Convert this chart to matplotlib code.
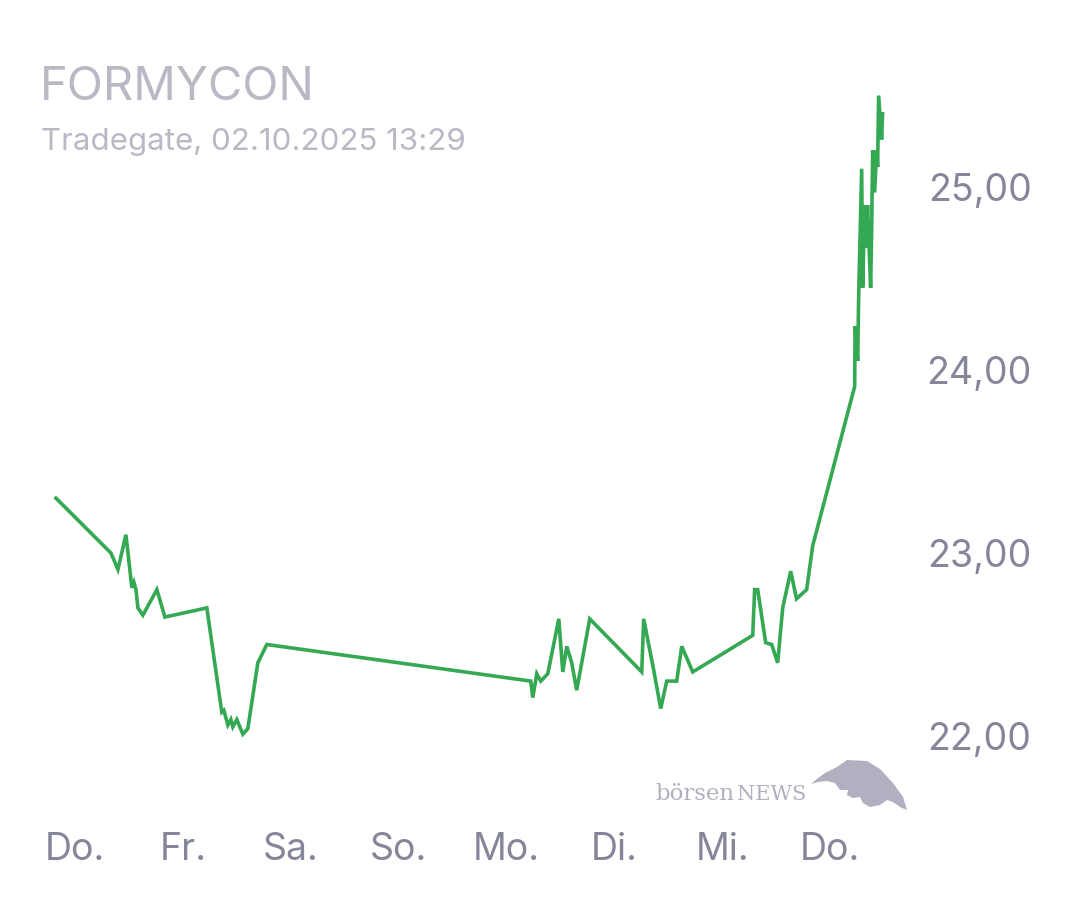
import matplotlib
matplotlib.use("Agg")
import matplotlib.pyplot as plt
from matplotlib.patches import Polygon

# day offsets (0 = first "Do." tick) and prices
days = [-0.176, 0.334, 0.399, 0.473, 0.528, 0.547, 0.566, 0.584, 0.630, 0.760,
        0.834, 1.223, 1.362, 1.381, 1.418, 1.446, 1.464, 1.501, 1.557, 1.603,
        1.696, 1.779, 4.226, 4.245, 4.282, 4.319, 4.384, 4.486, 4.523, 4.560,
        4.606, 4.652, 4.773, 5.255, 5.273, 5.366, 5.431, 5.487, 5.579, 5.626,
        5.728, 6.284, 6.302, 6.330, 6.404, 6.460, 6.515, 6.562, 6.636, 6.690,
        6.784, 6.840, 7.229, 7.233, 7.257, 7.266, 7.294, 7.303, 7.322, 7.331,
        7.349, 7.359, 7.377, 7.386, 7.396, 7.414, 7.433, 7.442, 7.451, 7.479,
        7.488]
prices = [23.30, 23.00, 22.91, 23.10, 22.81, 22.84, 22.80, 22.70, 22.66, 22.80,
          22.65, 22.70, 22.13, 22.14, 22.06, 22.09, 22.05, 22.09, 22.01, 22.04,
          22.40, 22.50, 22.30, 22.21, 22.34, 22.30, 22.34, 22.64, 22.35, 22.49,
          22.40, 22.25, 22.64, 22.35, 22.64, 22.36, 22.15, 22.30, 22.30, 22.49,
          22.35, 22.55, 22.80, 22.80, 22.51, 22.50, 22.40, 22.70, 22.90, 22.75,
          22.80, 23.04, 23.91, 24.24, 24.05, 24.40, 25.10, 24.45, 24.90, 24.67,
          24.90, 24.73, 24.45, 24.75, 25.20, 24.97, 25.20, 25.11, 25.50, 25.26,
          25.40]

day_labels = ["Do.", "Fr.", "Sa.", "So.", "Mo.", "Di.", "Mi.", "Do."]
y_ticks = [22, 23, 24, 25]
y_labels = ["22,00", "23,00", "24,00", "25,00"]

font = ["Inter", "DejaVu Sans"]
tick_color = "#86869a"
title_color = "#b9b9c6"

fig = plt.figure(figsize=(10.8, 9), dpi=100)
ax = fig.add_axes([0.037, 0.0944, 0.796, 0.8167])

ax.plot(days, prices, color="#34a853", linewidth=2.6, solid_joinstyle="miter")

ax.set_xlim(-0.324, 7.646)
ax.set_ylim(21.568, 25.585)

ax.set_xticks(range(len(day_labels)))
ax.set_xticklabels(day_labels, family=font, fontsize=27, color=tick_color)
ax.set_yticks(y_ticks)
ax.set_yticklabels(y_labels, family=font, fontsize=27, color=tick_color, ha="right")
ax.yaxis.tick_right()
ax.tick_params(axis="y", length=0, pad=95)
ax.tick_params(axis="x", length=0, pad=12)
for s in ax.spines.values():
    s.set_visible(False)

fig.text(40 / 1080, 1 - 88 / 900, "FORMYCON", family=font, fontsize=34,
         color=title_color, va="center", ha="left")
fig.text(41 / 1080, 1 - 142 / 900, "Tradegate, 02.10.2025 13:29", family=font,
         fontsize=22.5, color=title_color, va="center", ha="left")

# börsenNEWS logo
logo_color = "#b0b0c0"
fig.text(655 / 1080, 1 - 800 / 900, "börsen", family="DejaVu Serif", fontsize=16.5,
         color=logo_color, va="baseline", ha="left")
fig.text(737 / 1080, 1 - 800 / 900, "NEWS", family="DejaVu Serif", fontsize=15,
         color=logo_color, va="baseline", ha="left")
bull = [(811, 784), (818, 778), (825, 773), (837, 767), (847, 760), (867, 761),
        (880, 769), (893, 783), (903, 797), (907, 810), (900, 807), (893, 802),
        (887, 800), (880, 805), (870, 807), (863, 803), (860, 797), (853, 798),
        (847, 795), (848, 790), (840, 790), (835, 783), (827, 781), (818, 782)]
fig.patches.append(Polygon([(x / 1080, 1 - y / 900) for x, y in bull], closed=True,
                           transform=fig.transFigure, facecolor=logo_color,
                           edgecolor="none"))

fig.savefig("out.png", dpi=100, facecolor="white")
